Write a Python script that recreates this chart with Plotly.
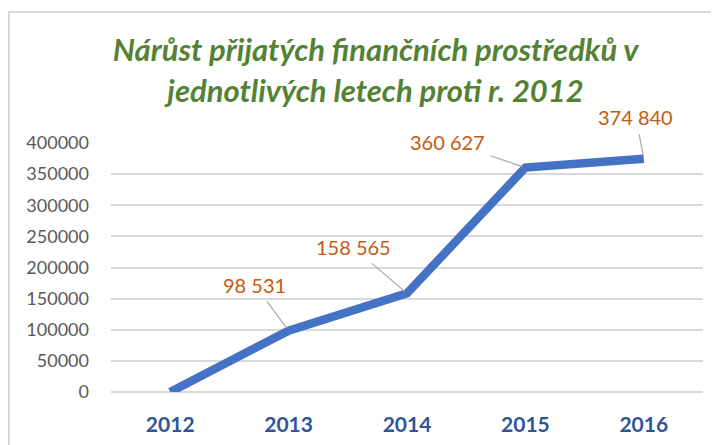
import plotly.graph_objects as go

years = ["2012", "2013", "2014", "2015", "2016"]
values = [0, 98531, 158565, 360627, 374840]
label_texts = ["", "98 531", "158 565", "360 627", "374 840"]
y_ticks = [0, 50000, 100000, 150000, 200000, 250000, 300000, 350000, 400000]

# label offsets (pixels) relative to each point: style only
offsets = [None, (-34, -46), (-54, -46), (-78, -26), (-8, -42)]

fig = go.Figure()
fig.add_trace(go.Scatter(
    x=years, y=values, mode="lines",
    line=dict(color="#4472C4", width=8.5),
    hoverinfo="skip", showlegend=False,
))

for i, (v, t, off) in enumerate(zip(values, label_texts, offsets)):
    if not t:
        continue
    fig.add_annotation(
        x=i, y=v, xref="x", yref="y", text=t, ax=off[0], ay=off[1],
        showarrow=True, arrowhead=0, arrowwidth=1.2, arrowcolor="#A6A6A6",
        standoff=3, startstandoff=4,
        font=dict(family="Lato", size=20, color="#C55A11"),
    )

fig.update_layout(
    width=711, height=437,
    margin=dict(l=103, r=16, t=135, b=53, autoexpand=False),
    paper_bgcolor="white", plot_bgcolor="white",
    title=dict(
        text="<b><i>Nárůst přijatých finančních prostředků v<br>jednotlivých letech proti r. 2012</i></b>",
        x=0.517, xanchor="center", y=0.878, yanchor="top",
        automargin=False,
        font=dict(family="Lato", size=31, color="#548235"),
    ),
    xaxis=dict(
        type="category", range=[-0.5, 4.5], automargin=False,
        showgrid=False, showline=False, zeroline=False, ticks="",
        tickvals=years, ticktext=["<b>" + y + "</b>" for y in years],
        tickfont=dict(family="Lato", size=21, color="#2F5597"),
        ticklabelstandoff=18,
    ),
    yaxis=dict(
        range=[0, 400000], tickvals=y_ticks, automargin=False,
        ticktext=[str(v) for v in y_ticks],
        showgrid=True, gridcolor="#D9D9D9", gridwidth=1.5,
        zeroline=True, zerolinecolor="#D9D9D9", zerolinewidth=1.5,
        showline=False, ticks="",
        tickfont=dict(family="Lato", size=18, color="#595959"),
        ticklabelstandoff=21,
    ),
    shapes=[dict(
        type="rect", xref="paper", yref="paper",
        x0=-0.1723, x1=1.05, y0=-0.3, y1=1.526,
        line=dict(color="#D9D9D9", width=2), fillcolor="rgba(0,0,0,0)",
        layer="above",
    )],
)

fig.write_html("out.html")
